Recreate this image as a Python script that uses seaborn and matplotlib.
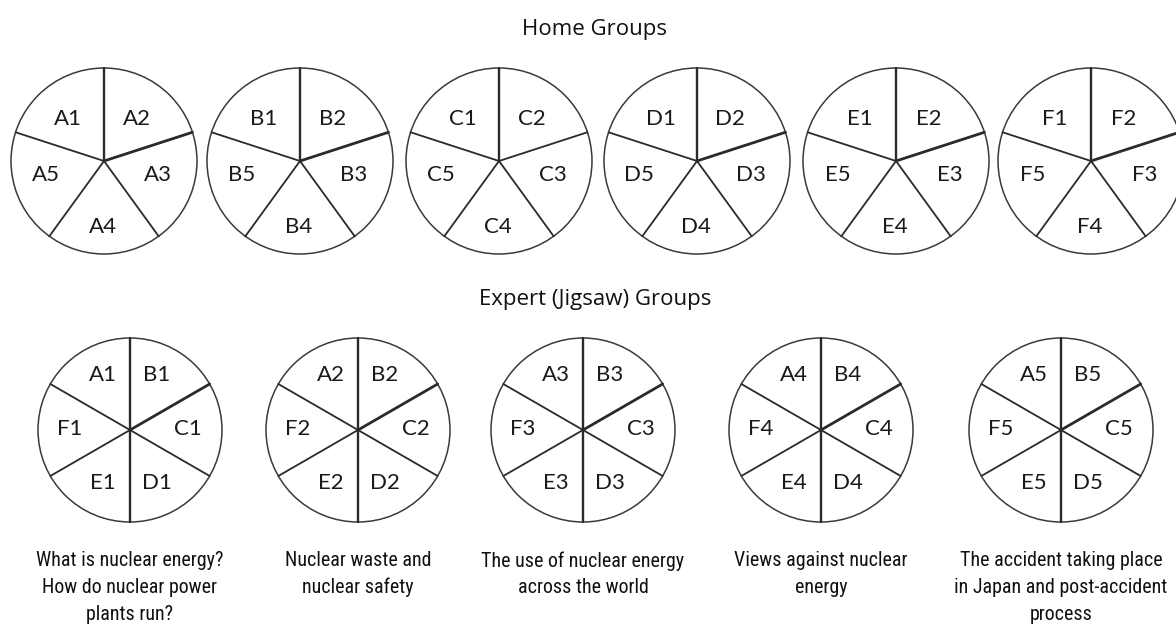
import numpy as np
import pandas as pd
import matplotlib
matplotlib.use("Agg")
import matplotlib.pyplot as plt
from matplotlib import font_manager
from matplotlib.patches import Circle
import seaborn as sns

# ---- data ----
home_groups = ["A", "B", "C", "D", "E", "F"]
members = ["1", "2", "3", "4", "5"]
expert_topics = [
    "What is nuclear energy?\nHow do nuclear power\nplants run?",
    "Nuclear waste and\nnuclear safety",
    "The use of nuclear energy\nacross the world",
    "Views against nuclear\nenergy",
    "The accident taking place\nin Japan and post-accident\nprocess",
]
title_home = "Home Groups"
title_expert = "Expert (Jigsaw) Groups"

# ---- layout (pixel coordinates) ----
W, H = 1176, 624
home_cx = [104, 300, 499, 697, 896, 1091]
home_cy, home_r = 161, 93
home_thick = [True, True, False, True, True, True]
exp_cx = [130, 358, 583, 821, 1061]
exp_cy, exp_r = 430, 92

# label offsets for pentagon slices (members 1..5)
home_off = [(-36, -42), (33, -42), (54, 14), (-1, 66), (-58, 14)]
# label offsets for hexagon slices (A..F)
exp_off = {"A": (-27, -55), "B": (27, -55), "C": (58, -1),
           "D": (27, 53), "E": (-27, 53), "F": (-60, -1)}


def has_font(name):
    try:
        font_manager.findfont(font_manager.FontProperties(family=name),
                              fallback_to_default=False)
        return True
    except Exception:
        return False


sns.set_theme(style="white")
label_font = "Lato" if has_font("Lato") else "DejaVu Sans"
title_font = "Open Sans" if has_font("Open Sans") else "DejaVu Sans"
if has_font("Roboto Condensed"):
    desc_font, desc_size = "Roboto Condensed", 14.4
elif has_font("Roboto"):
    desc_font, desc_size = "Roboto", 13.0
else:
    desc_font, desc_size = "Liberation Sans", 12.4
plt.rcParams["font.family"] = [label_font, "DejaVu Sans"]

fig = plt.figure(figsize=(W / 100, H / 100), dpi=100)
ax = fig.add_axes([0, 0, 1, 1])
ax.set_xlim(0, W)
ax.set_ylim(H, 0)

line_col = "#2a2a2a"

# build spokes
rows = []
seg = 0
for i, cx in enumerate(home_cx):
    for k in range(5):
        ang = np.deg2rad(90 - 72 * k)
        w = "thick" if (k == 1 and home_thick[i]) else "thin"
        if k == 0:
            w = "mid"
        rows.append((seg, w, cx, home_cy))
        rows.append((seg, w, cx + home_r * np.cos(ang), home_cy - home_r * np.sin(ang)))
        seg += 1
for j, cx in enumerate(exp_cx):
    for k in range(6):
        ang = np.deg2rad(90 - 60 * k)
        w = "mid" if k in (0, 3) else ("thick" if k == 1 else "thin")
        rows.append((seg, w, cx, exp_cy))
        rows.append((seg, w, cx + exp_r * np.cos(ang), exp_cy - exp_r * np.sin(ang)))
        seg += 1
spokes = pd.DataFrame(rows, columns=["seg", "w", "x", "y"])

sns.lineplot(data=spokes, x="x", y="y", units="seg", estimator=None,
             size="w", sizes={"thin": 1.3, "mid": 1.7, "thick": 2.0},
             sort=False, color=line_col, legend=False, ax=ax)

for cx in home_cx:
    ax.add_patch(Circle((cx, home_cy), home_r, fill=False, ec="#3a3a3a", lw=1.1))
for cx in exp_cx:
    ax.add_patch(Circle((cx, exp_cy), exp_r, fill=False, ec="#3a3a3a", lw=1.1))

# home labels
for i, g in enumerate(home_groups):
    for k, m in enumerate(members):
        dx, dy = home_off[k]
        ax.text(home_cx[i] + dx, home_cy + dy, g + m, ha="center", va="center",
                fontsize=16, color="#1a1a1a", family=[label_font, "DejaVu Sans"])

# expert labels
for j, cx in enumerate(exp_cx):
    m = members[j]
    for g in home_groups:
        dx, dy = exp_off[g]
        ax.text(cx + dx, exp_cy + dy, g + m, ha="center", va="center",
                fontsize=16, color="#1a1a1a", family=[label_font, "DejaVu Sans"])

# titles
ax.text(595, 29, title_home, ha="center", va="center", fontsize=16,
        color="#111111", family=[title_font, "DejaVu Sans"])
ax.text(595, 300, title_expert, ha="center", va="center", fontsize=16,
        color="#111111", family=[title_font, "DejaVu Sans"])

# topic descriptions
for j, cx in enumerate(exp_cx):
    for li, line in enumerate(expert_topics[j].split("\n")):
        ax.text(cx, 561 + 26.5 * li, line, ha="center", va="center",
                fontsize=desc_size, color="#111111",
                family=[desc_font, "DejaVu Sans"])

ax.set_axis_off()
fig.savefig("out.png", dpi=100, facecolor="white")
